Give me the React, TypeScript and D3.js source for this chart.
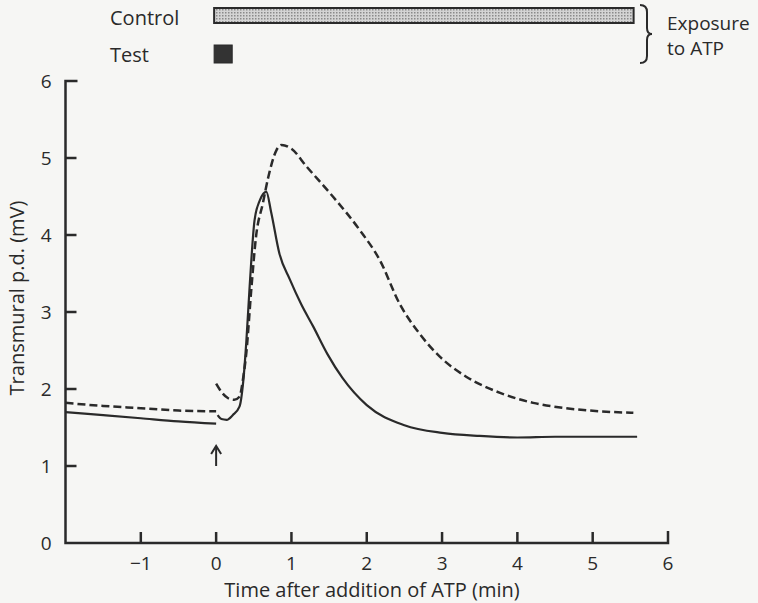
import React from "react";
import * as d3 from "d3";

// readings taken off the figure (time in min, p.d. in mV)
const solidPreT = [-2, -1.5, -1, -0.5, 0];
const solidPreV = [1.7, 1.66, 1.62, 1.58, 1.55];
const solidPostT = [0.02, 0.07, 0.14, 0.22, 0.31, 0.36, 0.4, 0.445, 0.51, 0.58, 0.667, 0.73, 0.84, 0.98, 1.13, 1.29, 1.48, 1.68, 2.0, 2.5, 3.0, 3.5, 4.0, 4.5, 5.0, 5.59];
const solidPostV = [1.66, 1.61, 1.6, 1.66, 1.77, 2.1, 2.6, 3.33, 4.19, 4.45, 4.56, 4.3, 3.76, 3.42, 3.1, 2.81, 2.45, 2.14, 1.79, 1.53, 1.43, 1.39, 1.37, 1.38, 1.38, 1.38];
const dashPreT = [-2, -1.5, -1, -0.5, 0];
const dashPreV = [1.82, 1.78, 1.75, 1.72, 1.71];
const dashPostT = [0.0, 0.08, 0.16, 0.24, 0.31, 0.36, 0.4, 0.47, 0.53, 0.62, 0.69, 0.8, 0.87, 1.0, 1.2, 1.55, 1.91, 2.17, 2.44, 2.7, 2.97, 3.32, 3.77, 4.21, 4.65, 5.1, 5.54];
const dashPostV = [2.07, 1.95, 1.88, 1.86, 1.9, 2.15, 2.46, 3.33, 3.98, 4.41, 4.74, 5.1, 5.17, 5.12, 4.89, 4.5, 4.06, 3.68, 3.1, 2.72, 2.42, 2.16, 1.95, 1.82, 1.75, 1.71, 1.69];

const xTicks = [-1, 0, 1, 2, 3, 4, 5, 6];
const yTicks = [0, 1, 2, 3, 4, 5, 6];
const controlExposure = [0, 5.57];
const testExposure = [0, 0.24];

const ink = "#2a2a2a";
const font = "'Open Sans', sans-serif";

function zip(t: number[], v: number[]): [number, number][] {
  return t.map((d, i) => [d, v[i]]);
}

export default function App() {
  const width = 758;
  const height = 603;

  const x = d3.scaleLinear().domain([-2, 6]).range([65.5, 668]);
  const y = d3.scaleLinear().domain([0, 6]).range([543, 81]);

  const line = d3
    .line<[number, number]>()
    .x((d) => x(d[0]))
    .y((d) => y(d[1]))
    .curve(d3.curveMonotoneX);

  const x0 = x(-2);
  const y0 = y(0);

  return (
    <svg
      width={width}
      height={height}
      style={{ position: "absolute", left: 0, top: 0, background: "#f6f6f4" }}
    >
      <defs>
        <pattern id="dots" width="3" height="3" patternUnits="userSpaceOnUse">
          <rect width="3" height="3" fill="#d4d4d4" />
          <rect width="1.5" height="1.5" fill="#8a8a8a" />
        </pattern>
      </defs>

      {/* exposure bars */}
      <text x={110} y={25} fontFamily={font} fontSize={20} fill={ink}>Control</text>
      <text x={110} y={62} fontFamily={font} fontSize={20} fill={ink}>Test</text>
      <rect
        x={x(controlExposure[0]) - 2}
        y={8}
        width={x(controlExposure[1]) - x(controlExposure[0])}
        height={15}
        fill="url(#dots)"
        stroke={ink}
        strokeWidth={2}
      />
      <rect
        x={x(testExposure[0]) - 2}
        y={45}
        width={x(testExposure[1]) - x(testExposure[0])}
        height={18}
        fill="#333"
        stroke={ink}
        strokeWidth={1}
      />
      <path
        d="M640,5 Q647,5 647,12 L647,28 Q647,34 652,34 Q647,34 647,40 L647,56 Q647,63 640,63"
        fill="none"
        stroke={ink}
        strokeWidth={2}
      />
      <text x={667} y={30} fontFamily={font} fontSize={19} fill={ink}>Exposure</text>
      <text x={667} y={55} fontFamily={font} fontSize={19} fill={ink}>to ATP</text>

      {/* axes */}
      <path
        d={`M${x0 + 12},${y(6)} L${x0},${y(6)} L${x0},${y0} L${x(6)},${y0} L${x(6)},${y0 - 12}`}
        fill="none"
        stroke={ink}
        strokeWidth={2.5}
      />
      {yTicks.slice(1, -1).map((t) => (
        <line key={"yt" + t} x1={x0} x2={x0 + 11} y1={y(t)} y2={y(t)} stroke={ink} strokeWidth={2.5} />
      ))}
      {yTicks.map((t) => (
        <text
          key={"yl" + t}
          x={x0 - 14}
          y={y(t)}
          dy="0.36em"
          textAnchor="end"
          fontFamily={font}
          fontSize={19}
          fill={ink}
        >
          {t}
        </text>
      ))}
      {xTicks.slice(0, -1).map((t) => (
        <line key={"xt" + t} x1={x(t)} x2={x(t)} y1={y0} y2={y0 - 11} stroke={ink} strokeWidth={2.5} />
      ))}
      {xTicks.map((t) => (
        <text
          key={"xl" + t}
          x={x(t)}
          y={570}
          textAnchor="middle"
          fontFamily={font}
          fontSize={19}
          fill={ink}
        >
          {t < 0 ? "\u2212" + Math.abs(t) : t}
        </text>
      ))}
      <text x={372} y={597} textAnchor="middle" fontFamily={font} fontSize={20} fill={ink}>
        Time after addition of ATP (min)
      </text>
      <text
        transform={`translate(24,${298}) rotate(-90)`}
        textAnchor="middle"
        fontFamily={font}
        fontSize={20}
        fill={ink}
      >
        Transmural p.d. (mV)
      </text>

      {/* curves */}
      <path d={line(zip(solidPreT, solidPreV)) || ""} fill="none" stroke={ink} strokeWidth={2.2} />
      <path d={line(zip(solidPostT, solidPostV)) || ""} fill="none" stroke={ink} strokeWidth={2.2} />
      <path d={line(zip(dashPreT, dashPreV)) || ""} fill="none" stroke={ink} strokeWidth={2.5} strokeDasharray="8 4" />
      <path d={line(zip(dashPostT, dashPostV)) || ""} fill="none" stroke={ink} strokeWidth={2.5} strokeDasharray="8 4" />

      {/* arrow marking addition of ATP */}
      <line x1={x(0)} x2={x(0)} y1={466} y2={447} stroke={ink} strokeWidth={2} />
      <path d={`M${x(0) - 5},${454} L${x(0)},${446} L${x(0) + 5},${454}`} fill="none" stroke={ink} strokeWidth={2} />
    </svg>
  );
}
